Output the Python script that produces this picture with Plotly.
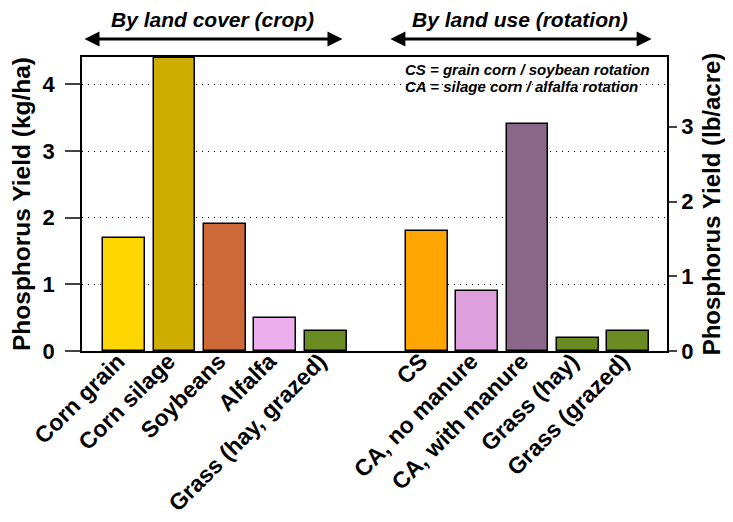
import plotly.graph_objects as go

# Data
crop_labels = ["Corn grain", "Corn silage", "Soybeans", "Alfalfa", "Grass (hay, grazed)"]
crop_values = [1.7, 4.4, 1.9, 0.5, 0.3]
crop_colors = ["#FFD700", "#CDAD00", "#CD6839", "#EEAEEE", "#698B22"]

rot_labels = ["CS", "CA, no manure", "CA, with manure", "Grass (hay)", "Grass (grazed)"]
rot_values = [1.8, 0.9, 3.4, 0.2, 0.3]
rot_colors = ["#FFA500", "#DDA0DD", "#8B668B", "#698B22", "#698B22"]

left_ticks = [0, 1, 2, 3, 4]
right_ticks = [0, 1, 2, 3]
KG_HA_TO_LB_ACRE = 0.892

labels = crop_labels + rot_labels
values = crop_values + rot_values
colors = crop_colors + rot_colors
positions = list(range(len(crop_labels))) + [len(crop_labels) + 1 + i for i in range(len(rot_labels))]

FONT = "Arial, Liberation Sans, sans-serif"

ymax = 4.41
xr = [-0.835, 10.765]

fig = go.Figure()
fig.add_trace(go.Bar(
    x=positions, y=values, width=0.83,
    marker=dict(color=colors, line=dict(color="black", width=1.5)),
    showlegend=False,
))
fig.add_trace(go.Scatter(x=[None], y=[None], yaxis="y2", showlegend=False))

fig.update_layout(
    width=725, height=514,
    margin=dict(l=74, r=66, t=49, b=171),
    paper_bgcolor="white", plot_bgcolor="white",
    font=dict(family=FONT, color="black"),
    bargap=0,
    xaxis=dict(
        range=xr, tickmode="array", tickvals=positions,
        ticktext=["<b>%s</b>" % t for t in labels],
        tickangle=-45, tickfont=dict(size=23, family=FONT),
        ticks="", ticklabelstandoff=-14, ticklabelshift=-6,
        showgrid=False, zeroline=False,
        showline=True, mirror=True, linecolor="black", linewidth=1.5,
        automargin=False,
    ),
    yaxis=dict(
        range=[0, ymax], tickmode="array", tickvals=left_ticks,
        ticktext=["<b>%d</b>" % v for v in left_ticks],
        tickfont=dict(size=22), ticks="outside", ticklen=15, tickwidth=1.5,
        ticklabelstandoff=6,
        showgrid=True, gridcolor="black", gridwidth=1, griddash="1px,5px",
        zeroline=False, showline=True, linecolor="black", linewidth=1.5,
        title=dict(text="<b>Phosphorus Yield (kg/ha)</b>", font=dict(size=24.5), standoff=7),
        automargin=False,
    ),
    yaxis2=dict(
        range=[0, ymax * KG_HA_TO_LB_ACRE], overlaying="y", side="right",
        tickmode="array", tickvals=right_ticks,
        ticktext=["<b>%d</b>" % v for v in right_ticks],
        tickfont=dict(size=22), ticks="outside", ticklen=8, tickwidth=1.5,
        showgrid=False, zeroline=False, showline=True, linecolor="black", linewidth=1.5,
        title=dict(text="<b>Phosphorus Yield (lb/acre)</b>", font=dict(size=24), standoff=11),
        automargin=False,
    ),
)

# Group headings with double-headed arrows
groups = [
    ("By land cover (crop)", -0.815, 4.33),
    ("By land use (rotation)", 5.25, 10.46),
]
for text, x0, x1 in groups:
    fig.add_annotation(
        x=x1, y=1.061, xref="x", yref="paper",
        ax=x0, ay=0, axref="x", ayref="pixel",
        text="", showarrow=True, arrowhead=2, arrowside="end+start",
        arrowsize=1, arrowwidth=3, arrowcolor="black",
    )
    fig.add_annotation(
        x=(x0 + x1) / 2, y=1.126, xref="x", yref="paper",
        text="<b><i>%s</i></b>" % text, showarrow=False,
        font=dict(size=21, family=FONT), xanchor="center", yanchor="middle",
    )

notes = ["CS = grain corn / soybean rotation", "CA = silage corn / alfalfa rotation"]
for i, t in enumerate(notes):
    fig.add_annotation(
        x=0.549, y=0.956 - i * 0.058, xref="paper", yref="paper",
        text="<b><i>%s</i></b>" % t, showarrow=False,
        font=dict(size=15, family=FONT), xanchor="left", yanchor="middle",
    )

fig.write_html("out.html")
